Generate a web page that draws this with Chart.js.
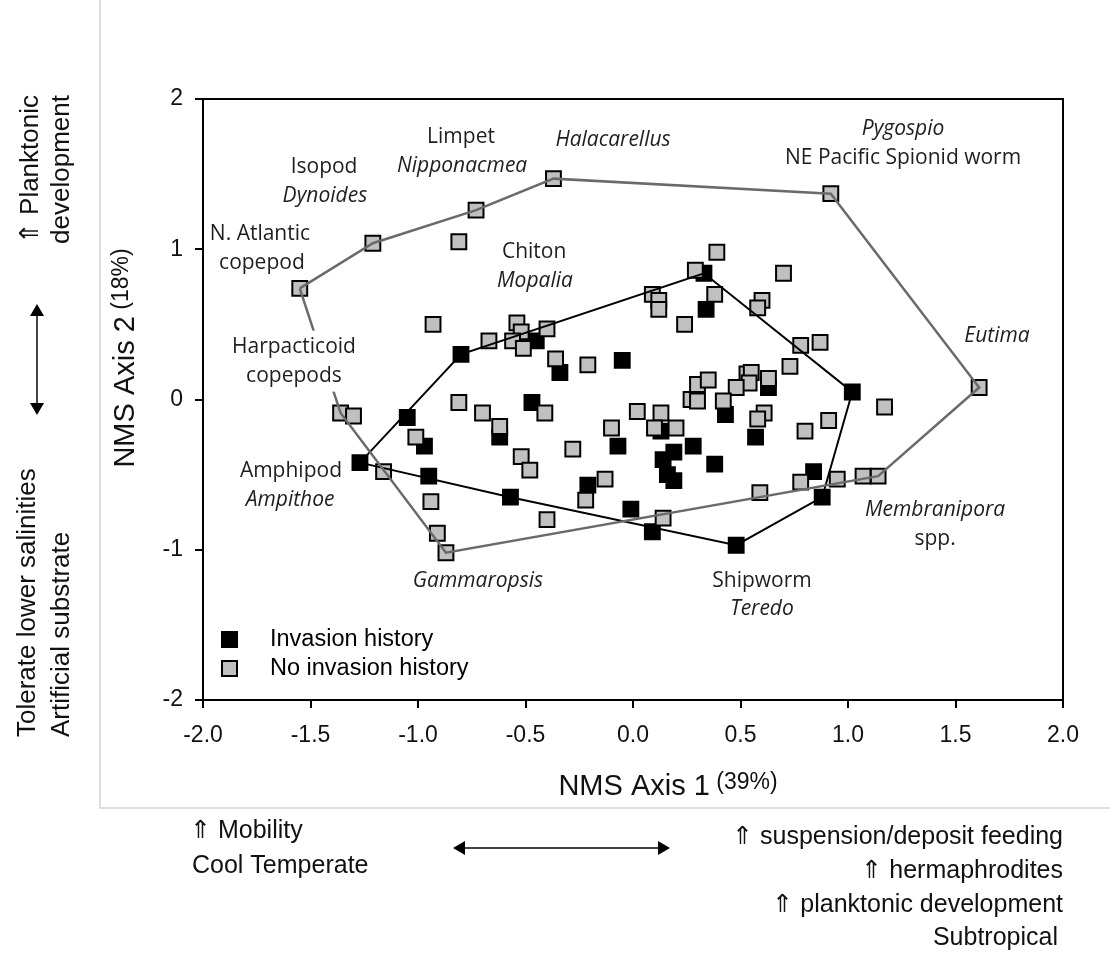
<!DOCTYPE html>
<html>
<head>
<meta charset="utf-8">
<script src="https://cdn.jsdelivr.net/npm/chart.js@4.4.0/dist/chart.umd.min.js"></script>
<style>
    html, body { margin: 0; padding: 0; background: #fff; }
    #wrap { position: relative; width: 1110px; height: 958px; }
</style>
</head>
<body>
<div id="wrap"><canvas id="nms" width="1110" height="958"></canvas></div>
<script>
    "use strict";

    // NMS scores, species with an invasion history
    var invX = [-0.80, -1.27, -1.05, -0.97, -0.95, -0.57, -0.62, -0.45, -0.34, -0.05, -0.47,
                0.34, 0.33, 1.02, 0.63, 0.43, 0.57, 0.28, 0.38, 0.84, 0.88, 0.48,
                -0.07, -0.21, -0.01, 0.09, 0.14, 0.19, 0.16, 0.19, 0.13];
    var invY = [0.30, -0.42, -0.12, -0.31, -0.51, -0.65, -0.25, 0.39, 0.18, 0.26, -0.02,
                0.60, 0.84, 0.05, 0.08, -0.10, -0.25, -0.31, -0.43, -0.48, -0.65, -0.97,
                -0.31, -0.57, -0.73, -0.88, -0.40, -0.35, -0.50, -0.54, -0.21];

    // NMS scores, species with no invasion history
    var noX = [-1.55, -1.21, -0.73, -0.37, 0.92, 1.61, 1.14, -0.87, -1.36, -0.81,
               -0.93, -0.67, -0.54, -0.52, -0.56, -0.51, -0.40, -0.36, -0.21, -0.81,
               -0.70, -0.62, -0.41, -1.01, -1.30, -1.16, -0.94, -0.91, -0.52, -0.48,
               -0.28, -0.10, -0.13, -0.22, -0.40, 0.02, 0.13, 0.10, 0.20, 0.27,
               0.14, 0.24, 0.09, 0.12, 0.12, 0.29, 0.39, 0.38, 0.70, 0.60,
               0.58, 0.78, 0.87, 0.73, 1.17, 0.30, 0.35, 0.30, 0.53, 0.55,
               0.54, 0.48, 0.63, 0.42, 0.61, 0.58, 0.91, 0.80, 0.78, 0.95,
               1.07, 0.59];
    var noY = [0.74, 1.04, 1.26, 1.47, 1.37, 0.08, -0.51, -1.02, -0.09, 1.05,
               0.50, 0.39, 0.51, 0.45, 0.39, 0.34, 0.47, 0.27, 0.23, -0.02,
               -0.09, -0.18, -0.09, -0.25, -0.11, -0.48, -0.68, -0.89, -0.38, -0.47,
               -0.33, -0.19, -0.53, -0.67, -0.80, -0.08, -0.09, -0.19, -0.19, 0.00,
               -0.79, 0.50, 0.70, 0.66, 0.60, 0.86, 0.98, 0.70, 0.84, 0.66,
               0.61, 0.36, 0.38, 0.22, -0.05, 0.10, 0.13, -0.01, 0.17, 0.18,
               0.11, 0.08, 0.14, -0.01, -0.09, -0.13, -0.14, -0.21, -0.55, -0.53,
               -0.51, -0.62];

    // hull outlines (closed)
    var hullInvX = [-1.27, -0.80, 0.33, 1.02, 0.88, 0.48, -0.57, -1.27];
    var hullInvY = [-0.42, 0.30, 0.84, 0.05, -0.65, -0.97, -0.65, -0.42];
    var hullNoX = [-1.55, -1.21, -0.73, -0.37, 0.92, 1.61, 1.14, -0.87, -1.36, -1.55];
    var hullNoY = [0.74, 1.04, 1.26, 1.47, 1.37, 0.08, -0.51, -1.02, -0.09, 0.74];

    var xTicks = [-2.0, -1.5, -1.0, -0.5, 0.0, 0.5, 1.0, 1.5, 2.0];
    var yTicks = [-2, -1, 0, 1, 2];

    var seriesNames = ["Invasion history", "No invasion history"];

    // species labels [text, x, y, italic, white box]
    var speciesLabels = [
        ["Isopod", -1.437, 1.548, false], ["Dynoides", -1.433, 1.355, true],
        ["Limpet", -0.80, 1.747, false], ["Nipponacmea", -0.795, 1.555, true],
        ["Halacarellus", -0.093, 1.728, true],
        ["N. Atlantic", -1.735, 1.103, false], ["copepod", -1.726, 0.910, false],
        ["Chiton", -0.46, 0.983, false], ["Mopalia", -0.456, 0.791, true],
        ["Harpacticoid", -1.577, 0.352, false, true], ["copepods", -1.577, 0.159, false, true],
        ["Pygospio", 1.256, 1.80, true], ["NE Pacific Spionid worm", 1.256, 1.608, false],
        ["Eutima", 1.693, 0.425, true],
        ["Amphipod", -1.591, -0.478, false], ["Ampithoe", -1.595, -0.671, true],
        ["Gammaropsis", -0.721, -1.209, true],
        ["Shipworm", 0.60, -1.209, false], ["Teredo", 0.60, -1.395, true],
        ["Membranipora", 1.405, -0.738, true], ["spp.", 1.405, -0.930, false]
    ];

    function pts(xs, ys) {
        return xs.map(function (x, i) { return {x: x, y: ys[i]}; });
    }

    var SANS = "'Liberation Sans', Arial, sans-serif";
    var LAB = "'Open Sans', 'Noto Sans', sans-serif";

    function arrowHead(ctx, x, y, dx, dy) {
        var px = -dy, py = dx;
        ctx.beginPath();
        ctx.moveTo(x, y);
        ctx.lineTo(x - dx * 12 + px * 7, y - dy * 12 + py * 7);
        ctx.lineTo(x - dx * 12 - px * 7, y - dy * 12 - py * 7);
        ctx.closePath();
        ctx.fill();
    }

    var decor = {
        id: "decor",
        afterDatasetsDraw: function (chart) {
            var ctx = chart.ctx, xs = chart.scales.x, ys = chart.scales.y;
            ctx.save();
            ctx.textAlign = "center";
            ctx.textBaseline = "middle";
            speciesLabels.forEach(function (l) {
                var px = xs.getPixelForValue(l[1]), py = ys.getPixelForValue(l[2]);
                ctx.font = (l[3] ? "italic " : "") + "21px " + LAB;
                if (l[4]) {
                    var w = ctx.measureText(l[0]).width;
                    ctx.fillStyle = "#fff";
                    ctx.fillRect(px - w / 2 - 4, py - 16, w + 8, 32);
                }
                ctx.fillStyle = "#1e1e1e";
                ctx.fillText(l[0], px, py);
            });
            ctx.restore();
        },
        afterDraw: function (chart) {
            var ctx = chart.ctx, a = chart.chartArea;
            ctx.save();

            // plot frame
            ctx.strokeStyle = "#000";
            ctx.lineWidth = 2;
            ctx.strokeRect(a.left, a.top, a.right - a.left, a.bottom - a.top);

            // outer figure border
            ctx.strokeStyle = "#d4d4d4";
            ctx.lineWidth = 1.5;
            ctx.beginPath();
            ctx.moveTo(100, 0);
            ctx.lineTo(100, 808);
            ctx.lineTo(1110, 808);
            ctx.stroke();

            // legend
            var sets = chart.data.datasets;
            [0, 1].forEach(function (k) {
                var ds = sets[k], cy = 639 + k * 29;
                ctx.fillStyle = ds.backgroundColor;
                ctx.strokeStyle = "#000";
                ctx.lineWidth = 2;
                ctx.fillRect(222, cy - 7, 15, 15);
                ctx.strokeRect(222, cy - 7, 15, 15);
                ctx.fillStyle = "#000";
                ctx.font = "23.5px " + SANS;
                ctx.textAlign = "left";
                ctx.textBaseline = "middle";
                ctx.fillText(ds.label, 270, cy + 1);
            });

            // axis titles
            ctx.fillStyle = "#111";
            ctx.textBaseline = "alphabetic";
            ctx.textAlign = "left";
            ctx.font = "29px " + SANS;
            var t1 = "NMS Axis 1", w1 = ctx.measureText(t1).width;
            ctx.font = "23px " + SANS;
            var s1 = " (39%)", ws1 = ctx.measureText(s1).width;
            var x0 = 668 - (w1 + ws1) / 2;
            ctx.font = "29px " + SANS;
            ctx.fillText(t1, x0, 795);
            ctx.font = "23px " + SANS;
            ctx.fillText(s1, x0 + w1, 789);

            ctx.save();
            ctx.translate(134, 358);
            ctx.rotate(-Math.PI / 2);
            ctx.font = "29px " + SANS;
            var t2 = "NMS Axis 2", w2 = ctx.measureText(t2).width;
            ctx.font = "23px " + SANS;
            var s2 = " (18%)", ws2 = ctx.measureText(s2).width;
            var y0 = -(w2 + ws2) / 2;
            ctx.font = "29px " + SANS;
            ctx.fillText(t2, y0, 0);
            ctx.font = "23px " + SANS;
            ctx.fillText(s2, y0 + w2, -6);
            ctx.restore();

            // left side trait notes
            ctx.fillStyle = "#111";
            ctx.font = "26px " + SANS;
            ctx.textBaseline = "middle";
            ctx.save();
            ctx.rotate(-Math.PI / 2);
            ctx.textAlign = "right";
            ctx.fillText("\u21D1 Planktonic", -95, 31);
            ctx.fillText("development", -95, 62);
            ctx.textAlign = "left";
            ctx.fillText("Tolerate lower salinities", -737, 28);
            ctx.fillText("Artificial substrate", -737, 62);
            ctx.restore();

            // bottom trait notes
            ctx.font = "25px " + SANS;
            ctx.textAlign = "left";
            ctx.fillText("\u21D1 Mobility", 190, 831);
            ctx.fillText("Cool Temperate", 192, 866);
            ctx.textAlign = "right";
            ctx.fillText("\u21D1 suspension/deposit feeding", 1063, 837);
            ctx.fillText("\u21D1 hermaphrodites", 1063, 871);
            ctx.fillText("\u21D1 planktonic development", 1063, 905);
            ctx.fillText("Subtropical", 1058, 938);

            // double arrows
            ctx.strokeStyle = "#444";
            ctx.fillStyle = "#000";
            ctx.lineWidth = 2;
            ctx.beginPath();
            ctx.moveTo(37, 308);
            ctx.lineTo(37, 411);
            ctx.stroke();
            arrowHead(ctx, 37, 304, 0, -1);
            arrowHead(ctx, 37, 415, 0, 1);
            ctx.beginPath();
            ctx.moveTo(457, 848);
            ctx.lineTo(666, 848);
            ctx.stroke();
            arrowHead(ctx, 453, 848, -1, 0);
            arrowHead(ctx, 670, 848, 1, 0);

            ctx.restore();
        }
    };

    var ctx1 = document.getElementById("nms").getContext("2d");
    var myChart1 = new Chart(ctx1, {
        type: "scatter",
        data: {
            datasets: [{
                    label: seriesNames[0],
                    data: pts(invX, invY),
                    backgroundColor: "#000",
                    borderColor: "#000",
                    borderWidth: 2,
                    pointStyle: "rect",
                    pointRadius: 10.5,
                    order: 3
                },
                {
                    label: seriesNames[1],
                    data: pts(noX, noY),
                    backgroundColor: "#c0c0c0",
                    borderColor: "#000",
                    borderWidth: 2,
                    pointStyle: "rect",
                    pointRadius: 10.5,
                    order: 2
                },
                {
                    label: "hull-inv",
                    data: pts(hullInvX, hullInvY),
                    showLine: true,
                    borderColor: "#000",
                    borderWidth: 2,
                    pointRadius: 0,
                    fill: false,
                    order: 1
                },
                {
                    label: "hull-no",
                    data: pts(hullNoX, hullNoY),
                    showLine: true,
                    borderColor: "#6a6a6a",
                    borderWidth: 2.5,
                    pointRadius: 0,
                    fill: false,
                    order: 0
                }
            ]
        },
        options: {
            responsive: false,
            animation: false,
            devicePixelRatio: 1,
            layout: {padding: {left: 0, top: 99, right: 47, bottom: 0}},
            plugins: {
                legend: {display: false},
                tooltip: {enabled: false}
            },
            scales: {
                x: {
                    type: "linear",
                    min: -2,
                    max: 2,
                    afterFit: function (s) { s.height = 258; },
                    afterBuildTicks: function (s) {
                        s.ticks = xTicks.map(function (v) { return {value: v}; });
                    },
                    border: {color: "#000", width: 2},
                    grid: {drawOnChartArea: false, drawTicks: true, tickLength: 8, color: "#000", lineWidth: 2},
                    ticks: {
                        color: "#111",
                        padding: 14,
                        maxRotation: 0,
                        font: {family: SANS, size: 23},
                        callback: function (v) { return Number(v).toFixed(1); }
                    }
                },
                y: {
                    type: "linear",
                    min: -2,
                    max: 2,
                    afterFit: function (s) { s.width = 203; },
                    afterBuildTicks: function (s) {
                        s.ticks = yTicks.map(function (v) { return {value: v}; });
                    },
                    border: {color: "#000", width: 2},
                    grid: {drawOnChartArea: false, drawTicks: true, tickLength: 8, color: "#000", lineWidth: 2},
                    ticks: {
                        color: "#111",
                        padding: 12,
                        font: {family: SANS, size: 23},
                        callback: function (v) { return String(v); }
                    }
                }
            }
        },
        plugins: [decor]
    });
</script>
</body>
</html>
